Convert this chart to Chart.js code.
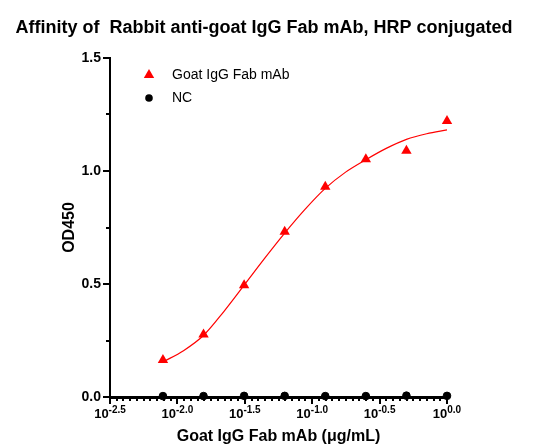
<!DOCTYPE html>
<html>
<head>
<meta charset="utf-8">
<script src="https://cdn.jsdelivr.net/npm/chart.js@4.4.1/dist/chart.umd.min.js"></script>
<style>
  html, body { margin: 0; padding: 0; background: #fff; }
  #wrap { width: 552px; height: 445px; }
</style>
</head>
<body>
<div id="wrap"><canvas id="affinityChart" width="552" height="445"></canvas></div>
<script>
// Affinity ELISA — Rabbit anti-goat IgG Fab mAb, HRP

const chartTitle = 'Affinity of  Rabbit anti-goat IgG Fab mAb, HRP conjugated';
const seriesNames = ['Goat IgG Fab mAb', 'NC'];

// concentrations (µg/mL), 2-fold dilutions
const concentrations = [0.0078125, 0.015625, 0.03125, 0.0625, 0.125, 0.25, 0.5, 1];
const sampleOD = [0.164, 0.277, 0.495, 0.731, 0.930, 1.052, 1.090, 1.221];
const ncOD = [0.004, 0.004, 0.005, 0.005, 0.004, 0.004, 0.006, 0.005];

// fitted curve
const curveConc = [0.0078, 0.0111, 0.0156, 0.0221, 0.0313, 0.0442, 0.0625, 0.0884, 0.125, 0.177, 0.25, 0.354, 0.5, 0.707, 1];
const curveOD = [0.155, 0.205, 0.272, 0.378, 0.495, 0.612, 0.725, 0.830, 0.923, 0.995, 1.050, 1.100, 1.140, 1.165, 1.182];

// axes
const xExponents = ['-2.5', '-2.0', '-1.5', '-1.0', '-0.5', '0.0'];
const xMinorStep = 0.05;
const yTicks = [0, 0.5, 1.0, 1.5];
const yMinorTicks = [0.25, 0.75, 1.25];

const FONT = '"Liberation Sans", Arial, sans-serif';
const RED = '#ff0000';

const xMin = Math.pow(10, parseFloat(xExponents[0]));
const xMax = Math.pow(10, parseFloat(xExponents[xExponents.length - 1]));

function drawTriangle(ctx, cx, cy, r) {
    ctx.beginPath();
    ctx.moveTo(cx, cy - r);
    ctx.lineTo(cx + r * 0.866, cy + r * 0.5);
    ctx.lineTo(cx - r * 0.866, cy + r * 0.5);
    ctx.closePath();
    ctx.fill();
}

const decorPlugin = {
    id: 'decor',
    afterDraw(chart) {
        const { ctx, scales: { x, y } } = chart;
        ctx.save();
        ctx.fillStyle = '#000';
        ctx.strokeStyle = '#000';

        // title
        ctx.font = 'bold 18px ' + FONT;
        ctx.textAlign = 'center';
        ctx.textBaseline = 'middle';
        ctx.fillText(chartTitle, 264, 28);

        // x ticks
        const lo = parseFloat(xExponents[0]);
        const hi = parseFloat(xExponents[xExponents.length - 1]);
        const steps = Math.round((hi - lo) / xMinorStep);
        ctx.lineWidth = 2;
        for (let i = 0; i <= steps; i++) {
            const e = lo + i * xMinorStep;
            const px = Math.round(x.getPixelForValue(Math.pow(10, e)));
            const len = i % 10 === 0 ? 7 : 4;
            ctx.beginPath();
            ctx.moveTo(px, y.bottom);
            ctx.lineTo(px, y.bottom + len);
            ctx.stroke();
        }

        // x tick labels 10^e
        xExponents.forEach(exp => {
            const px = x.getPixelForValue(Math.pow(10, parseFloat(exp)));
            ctx.font = 'bold 13px ' + FONT;
            const wBase = ctx.measureText('10').width;
            ctx.font = 'bold 10px ' + FONT;
            const wExp = ctx.measureText(exp).width;
            const left = px - (wBase + wExp) / 2;
            ctx.textAlign = 'left';
            ctx.textBaseline = 'alphabetic';
            ctx.font = 'bold 13px ' + FONT;
            ctx.fillText('10', left, 418);
            ctx.font = 'bold 10px ' + FONT;
            ctx.fillText(exp, left + wBase, 413);
        });

        // y ticks
        yTicks.forEach(v => {
            const py = Math.round(y.getPixelForValue(v));
            ctx.beginPath();
            ctx.moveTo(x.left, py);
            ctx.lineTo(x.left - 7, py);
            ctx.stroke();
        });
        yMinorTicks.forEach(v => {
            const py = Math.round(y.getPixelForValue(v));
            ctx.beginPath();
            ctx.moveTo(x.left, py);
            ctx.lineTo(x.left - 4, py);
            ctx.stroke();
        });

        // legend
        ctx.fillStyle = RED;
        drawTriangle(ctx, 149, 75, 6);
        ctx.fillStyle = '#000';
        ctx.beginPath();
        ctx.arc(149, 98, 3.8, 0, Math.PI * 2);
        ctx.fill();
        ctx.font = '14px ' + FONT;
        ctx.textAlign = 'left';
        ctx.textBaseline = 'middle';
        ctx.fillText(seriesNames[0], 172, 75);
        ctx.fillText(seriesNames[1], 172, 98);

        ctx.restore();
    }
};

const ctx = document.getElementById('affinityChart').getContext('2d');
new Chart(ctx, {
    type: 'scatter',
    data: {
        datasets: [
            {
                label: 'fit',
                type: 'line',
                data: curveConc.map((c, i) => ({ x: c, y: curveOD[i] })),
                borderColor: RED,
                borderWidth: 1.2,
                pointRadius: 0,
                cubicInterpolationMode: 'monotone',
                fill: false,
                clip: false
            },
            {
                label: seriesNames[1],
                data: concentrations.map((c, i) => ({ x: c, y: ncOD[i] })),
                backgroundColor: '#000',
                borderColor: '#000',
                pointStyle: 'circle',
                pointRadius: 3.8,
                clip: false
            },
            {
                label: seriesNames[0],
                data: concentrations.map((c, i) => ({ x: c, y: sampleOD[i] })),
                backgroundColor: RED,
                borderColor: RED,
                borderWidth: 0,
                pointStyle: 'triangle',
                pointRadius: 6,
                clip: false
            }
        ]
    },
    options: {
        responsive: false,
        animation: false,
        layout: { padding: { top: 58, right: 105, left: 0, bottom: 0 } },
        plugins: {
            legend: { display: false },
            tooltip: { enabled: false }
        },
        scales: {
            x: {
                type: 'logarithmic',
                min: xMin,
                max: xMax,
                afterFit: s => { s.height = 48; },
                grid: { display: false, drawTicks: false },
                border: { display: true, color: '#000', width: 3 },
                ticks: { display: false },
                title: {
                    display: true,
                    text: 'Goat IgG Fab mAb (μg/mL)',
                    color: '#000',
                    font: { family: FONT, size: 16, weight: 'bold', lineHeight: 1 },
                    padding: { top: 0, bottom: 0 }
                }
            },
            y: {
                min: 0,
                max: 1.5,
                afterFit: s => { s.width = 110; },
                afterBuildTicks: s => { s.ticks = yTicks.map(v => ({ value: v })); },
                grid: { display: false, drawTicks: true, tickLength: 7 },
                border: { display: true, color: '#000', width: 2 },
                ticks: {
                    color: '#000',
                    padding: 2,
                    font: { family: FONT, size: 14, weight: 'bold' },
                    callback: v => v.toFixed(1)
                },
                title: {
                    display: true,
                    text: 'OD450',
                    color: '#000',
                    font: { family: FONT, size: 16, weight: 'bold', lineHeight: 1 },
                    padding: { top: 62, bottom: 0 }
                }
            }
        }
    },
    plugins: [decorPlugin]
});
</script>
</body>
</html>
